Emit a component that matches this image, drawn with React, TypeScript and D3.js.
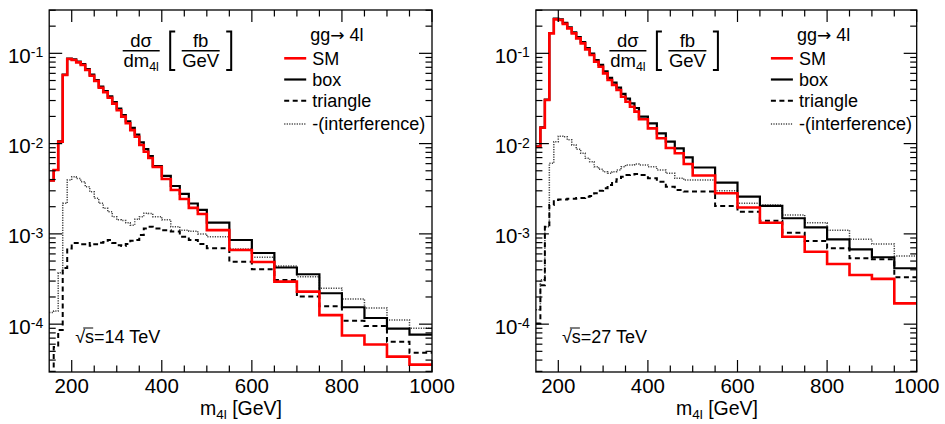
import React from 'react';
import * as d3 from 'd3';

// bin edges in GeV (10 GeV up to 380, then 20 GeV up to 500, then 50 GeV)
const binEdges = [150, 160, 170, 180, 190, 200, 210, 220, 230, 240, 250, 260, 270, 280, 290, 300, 310, 320, 330, 340, 350, 360, 370, 380, 400, 420, 440, 460, 480, 500, 550, 600, 650, 700, 750, 800, 850, 900, 950, 1000];

// sqrt(s) = 14 TeV
const sm14 = [3.9e-3, 5.1e-3, 1.05e-2, 5.75e-2, 8.65e-2, 8.43e-2, 7.95e-2, 7.42e-2, 6.53e-2, 5.65e-2, 4.93e-2, 4.16e-2, 3.7e-2, 3.22e-2, 2.77e-2, 2.34e-2, 1.99e-2, 1.68e-2, 1.41e-2, 1.19e-2, 9.65e-3, 8.13e-3, 6.93e-3, 5.51e-3, 4.06e-3, 3.06e-3, 2.43e-3, 1.94e-3, 1.66e-3, 1.1e-3, 6.63e-4, 4.88e-4, 2.96e-4, 2.29e-4, 1.26e-4, 7.5e-5, 5.96e-5, 4.37e-5, 3.56e-5];
const box14 = [3.9e-3, 5.1e-3, 1.06e-2, 5.8e-2, 8.75e-2, 8.55e-2, 8.1e-2, 7.6e-2, 6.7e-2, 5.8e-2, 5.05e-2, 4.28e-2, 3.82e-2, 3.33e-2, 2.88e-2, 2.44e-2, 2.07e-2, 1.76e-2, 1.49e-2, 1.26e-2, 1.03e-2, 8.7e-3, 7.29e-3, 5.65e-3, 4.38e-3, 3.39e-3, 2.77e-3, 2.17e-3, 1.84e-3, 1.33e-3, 8.56e-4, 6.14e-4, 4.24e-4, 3.57e-4, 2.2e-4, 1.54e-4, 1.17e-4, 8.9e-5, 7.65e-5];
const tri14 = [2.4e-5, 5.6e-5, 8.6e-5, 4.2e-4, 6.9e-4, 7.9e-4, 7.9e-4, 7.7e-4, 7.9e-4, 7.4e-4, 7.7e-4, 8.0e-4, 8.13e-4, 8.56e-4, 7.93e-4, 7.5e-4, 7.34e-4, 7.73e-4, 8.4e-4, 8.56e-4, 9.72e-4, 1.15e-3, 1.2e-3, 1.15e-3, 1.1e-3, 1.06e-3, 9.3e-4, 8.56e-4, 7.73e-4, 6.93e-4, 4.92e-4, 4.06e-4, 3.09e-4, 2.02e-4, 1.58e-4, 1.09e-4, 9.55e-5, 6.4e-5, 4.83e-5];
const int14 = [1.35e-4, 1.4e-4, 3.7e-4, 2.18e-3, 3.95e-3, 4.3e-3, 4.1e-3, 3.79e-3, 3.33e-3, 2.93e-3, 2.48e-3, 2.18e-3, 1.92e-3, 1.76e-3, 1.55e-3, 1.43e-3, 1.41e-3, 1.33e-3, 1.25e-3, 1.45e-3, 1.55e-3, 1.69e-3, 1.68e-3, 1.55e-3, 1.43e-3, 1.2e-3, 1.1e-3, 1.07e-3, 1.0e-3, 9.3e-4, 6.8e-4, 5.51e-4, 4.41e-4, 3.36e-4, 2.5e-4, 1.9e-4, 1.51e-4, 1.11e-4, 9.0e-5];

// sqrt(s) = 27 TeV
const sm27 = [9.24e-3, 1.5e-2, 3.04e-2, 0.1665, 0.238, 0.234, 0.212, 0.189, 0.1665, 0.1466, 0.129, 0.1107, 0.0958, 0.0807, 0.0711, 0.06, 0.0506, 0.0446, 0.0392, 0.0331, 0.0291, 0.0256, 0.0226, 0.01858, 0.01476, 0.01145, 8.94e-3, 7.81e-3, 5.94e-3, 4.43e-3, 2.82e-3, 1.96e-3, 1.33e-3, 9.31e-4, 6.35e-4, 4.64e-4, 3.5e-4, 3.17e-4, 1.7e-4];
const box27 = [9.3e-3, 1.51e-2, 3.07e-2, 0.168, 0.242, 0.238, 0.217, 0.194, 0.171, 0.151, 0.133, 0.1145, 0.0995, 0.0842, 0.0745, 0.0632, 0.0535, 0.0474, 0.0418, 0.0356, 0.0315, 0.0279, 0.0248, 0.01986, 0.01678, 0.013, 0.0105, 8.87e-3, 7.05e-3, 5.44e-3, 3.69e-3, 2.58e-3, 2.04e-3, 1.49e-3, 1.18e-3, 8.71e-4, 6.75e-4, 5.51e-4, 4.16e-4];
const tri27 = [1.02e-4, 2.7e-4, 1.2e-3, 2.09e-3, 2.37e-3, 2.4e-3, 2.4e-3, 2.45e-3, 2.45e-3, 2.5e-3, 2.5e-3, 2.58e-3, 2.62e-3, 2.82e-3, 3.0e-3, 3.2e-3, 3.48e-3, 3.79e-3, 4.03e-3, 4.3e-3, 4.49e-3, 4.56e-3, 4.6e-3, 4.49e-3, 4.13e-3, 3.79e-3, 3.33e-3, 3.06e-3, 2.94e-3, 2.94e-3, 2.04e-3, 1.76e-3, 1.4e-3, 1.03e-3, 8.35e-4, 6.93e-4, 5.37e-4, 5.23e-4, 3.31e-4];
const int27 = [1.44e-4, 3.1e-4, 1.2e-3, 6.05e-3, 0.0105, 0.0121, 0.0119, 0.011, 9.65e-3, 8.65e-3, 7.8e-3, 6.88e-3, 6.3e-3, 5.55e-3, 5.19e-3, 4.89e-3, 4.69e-3, 4.89e-3, 5.1e-3, 5.55e-3, 5.8e-3, 5.8e-3, 5.94e-3, 5.8e-3, 5.55e-3, 5.1e-3, 4.69e-3, 4.13e-3, 3.95e-3, 3.95e-3, 3.0e-3, 2.18e-3, 2.09e-3, 1.62e-3, 1.33e-3, 1.1e-3, 8.71e-4, 7.73e-4, 5.69e-4];

const xMajorTicks = [200, 400, 600, 800, 1000];
const xMinorTicks = [250, 300, 350, 450, 500, 550, 650, 700, 750, 850, 900, 950];
const yExponents = [-4, -3, -2, -1];
const legendLabels = ['SM', 'box', 'triangle', '-(interference)'];

const FONT = '"Liberation Sans", Arial, Helvetica, sans-serif';
const TOP = 10;
const BOTTOM = 372;
const Y_MIN = Math.pow(10, -4.53);
const Y_MAX = Math.pow(10, -0.52);

const styles = [
  { stroke: '#ff0000', width: 2.6, dash: undefined },
  { stroke: '#000000', width: 2.2, dash: undefined },
  { stroke: '#000000', width: 2, dash: '5 3.5' },
  { stroke: '#444444', width: 1.5, dash: '1.2 1.3' },
];

type PanelProps = {
  id: string;
  x0: number;
  x1: number;
  series: number[][];
  energy: string;
  titleCx: number;
};

const Panel = ({ id, x0, x1, series, energy, titleCx }: PanelProps) => {
  const x = d3.scaleLinear().domain([150, 1000]).range([x0, x1]);
  const y = d3.scaleLog().domain([Y_MIN, Y_MAX]).range([BOTTOM, TOP]);

  const step = (vals: number[]) => {
    const pts: [number, number][] = vals.map((v, i) => [binEdges[i], v]);
    pts.push([binEdges[binEdges.length - 1], vals[vals.length - 1]]);
    return d3.line<[number, number]>()
      .x(d => x(d[0]))
      .y(d => y(d[1]))
      .curve(d3.curveStepAfter)(pts) || '';
  };

  const yMinor: number[] = [];
  for (let k = -5; k <= -1; k++) {
    for (let m = 2; m <= 9; m++) {
      const v = m * Math.pow(10, k);
      if (v > Y_MIN && v < Y_MAX) yMinor.push(v);
    }
  }

  // draw order: interference, triangle, box, SM on top
  const order = [3, 2, 1, 0];

  const fx = x0; // formula / legend anchor
  return (
    <g fontFamily={FONT}>
      <defs>
        <clipPath id={`clip-${id}`}>
          <rect x={x0} y={TOP} width={x1 - x0} height={BOTTOM - TOP} />
        </clipPath>
      </defs>

      <g clipPath={`url(#clip-${id})`}>
        {order.map(i => (
          <path key={i} d={step(series[i])} fill="none" stroke={styles[i].stroke}
            strokeWidth={styles[i].width} strokeDasharray={styles[i].dash} />
        ))}
      </g>

      {/* frame */}
      <rect x={x0} y={TOP} width={x1 - x0} height={BOTTOM - TOP} fill="none" stroke="#000" strokeWidth={1.3} />

      {/* x ticks */}
      {xMajorTicks.map(t => (
        <g key={`xm${t}`}>
          <line x1={x(t)} x2={x(t)} y1={BOTTOM} y2={BOTTOM - 12} stroke="#000" strokeWidth={1.2} />
          <line x1={x(t)} x2={x(t)} y1={TOP} y2={TOP + 12} stroke="#000" strokeWidth={1.2} />
          <text x={x(t)} y={392.5} fontSize={20.5} textAnchor="middle">{t}</text>
        </g>
      ))}
      {xMinorTicks.map(t => (
        <g key={`xn${t}`}>
          <line x1={x(t)} x2={x(t)} y1={BOTTOM} y2={BOTTOM - 6.5} stroke="#000" strokeWidth={1.2} />
          <line x1={x(t)} x2={x(t)} y1={TOP} y2={TOP + 6.5} stroke="#000" strokeWidth={1.2} />
        </g>
      ))}

      {/* y ticks */}
      {yExponents.map(e => {
        const yy = y(Math.pow(10, e));
        return (
          <g key={`ym${e}`}>
            <line x1={x0} x2={x0 + 13} y1={yy} y2={yy} stroke="#000" strokeWidth={1.2} />
            <line x1={x1} x2={x1 - 13} y1={yy} y2={yy} stroke="#000" strokeWidth={1.2} />
            <text x={x0 - 6} y={yy + 9.5} fontSize={20.5} textAnchor="end">
              10<tspan fontSize={14} dy={-5.5}>{e}</tspan>
            </text>
          </g>
        );
      })}
      {yMinor.map(v => (
        <g key={`yn${v}`}>
          <line x1={x0} x2={x0 + 6.5} y1={y(v)} y2={y(v)} stroke="#000" strokeWidth={1.2} />
          <line x1={x1} x2={x1 - 6.5} y1={y(v)} y2={y(v)} stroke="#000" strokeWidth={1.2} />
        </g>
      ))}

      {/* axis title */}
      <text x={titleCx} y={415} fontSize={19.5} textAnchor="middle">
        m<tspan fontSize={13.5} dy={4}>4l</tspan><tspan dy={-4}> [GeV]</tspan>
      </text>

      {/* formula */}
      <g fontSize={18.5}>
        <text x={fx + 92} y={46.5} textAnchor="middle">dσ</text>
        <line x1={fx + 73.5} x2={fx + 110.5} y1={50.7} y2={50.7} stroke="#000" strokeWidth={1.5} />
        <text x={fx + 92} y={66.5} textAnchor="middle">dm<tspan fontSize={12.5} dy={4}>4l</tspan></text>
        <path d={`M${fx + 126},31.5 H${fx + 121} V70 H${fx + 126}`} fill="none" stroke="#000" strokeWidth={2} />
        <text x={fx + 151.5} y={46.5} textAnchor="middle">fb</text>
        <line x1={fx + 132.5} x2={fx + 170.5} y1={50.7} y2={50.7} stroke="#000" strokeWidth={1.5} />
        <text x={fx + 151.5} y={66.5} textAnchor="middle">GeV</text>
        <path d={`M${fx + 177},31.5 H${fx + 182} V70 H${fx + 177}`} fill="none" stroke="#000" strokeWidth={2} />
      </g>

      {/* legend */}
      <g fontSize={18}>
        <text x={fx + 261} y={41}>gg<tspan fontFamily="DejaVu Sans" fontSize={17}>→</tspan> 4l</text>
        {legendLabels.map((lab, i) => {
          const ly = [58.3, 79.5, 100.8, 124][i];
          return (
            <g key={lab}>
              <line x1={fx + 235} x2={fx + 257} y1={ly} y2={ly} stroke={styles[i].stroke}
                strokeWidth={styles[i].width} strokeDasharray={styles[i].dash} />
              <text x={fx + 263} y={ly + 6.3}>{lab}</text>
            </g>
          );
        })}
      </g>

      {/* energy label */}
      <text x={x0 + 26} y={343} fontSize={18}>√s=<tspan>{energy}</tspan></text>
      <line x1={x0 + 34} x2={x0 + 44} y1={328} y2={328} stroke="#000" strokeWidth={1} />
    </g>
  );
};

export default function App() {
  return (
    <svg width={945} height={424} style={{ position: 'absolute', left: 0, top: 0, background: '#fff' }}>
      <rect width={945} height={424} fill="#fff" />
      <Panel id="a" x0={49.2} x1={432} series={[sm14, box14, tri14, int14]} energy="14 TeV" titleCx={241} />
      <Panel id="b" x0={535.9} x1={916.7} series={[sm27, box27, tri27, int27]} energy="27 TeV" titleCx={717} />
    </svg>
  );
}
